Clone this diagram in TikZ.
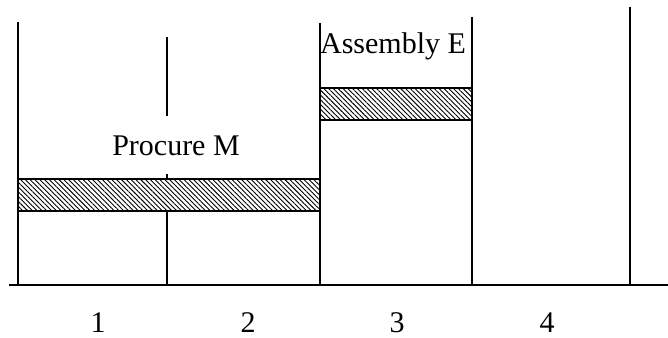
\documentclass[tikz,border=0pt]{standalone}
\usepackage{fontspec}
\setmainfont{Liberation Serif}
\usetikzlibrary{patterns.meta}
\tikzset{
  period/.style={line width=1.8pt},
  taskbar/.style={draw,line width=2pt,preaction={fill=white},
    pattern={Lines[angle=-45,distance=3.4pt,line width=0.9pt]}},
  tasklabel/.style={font=\fontsize{30}{34}\selectfont,inner sep=0pt,anchor=base},
}
\begin{document}
\begin{tikzpicture}[x=1pt,y=-1pt]
\path[use as bounding box] (0,0) rectangle (668,337);
% time axis and period lines
\draw[period] (9,285) -- (668,285);
\foreach \x/\top in {18/22,320/23,472/17,630/7}
  \draw[period] (\x,\top) -- (\x,285);
\draw[period] (167,37) -- (167,116);
\draw[period] (167,174) -- (167,285);
% tasks
\draw[taskbar] (18,179) rectangle (320,211);
\draw[taskbar] (320,88) rectangle (472,120);
\node[tasklabel] (procure) at (176,155) {Procure M};
\node[tasklabel] (assembly) at (393,53) {Assembly E};
% period numbers
\foreach \n/\x in {1/98,2/248,3/397,4/547}
  \node[tasklabel] (p\n) at (\x,332) {\n};
\end{tikzpicture}
\end{document}
